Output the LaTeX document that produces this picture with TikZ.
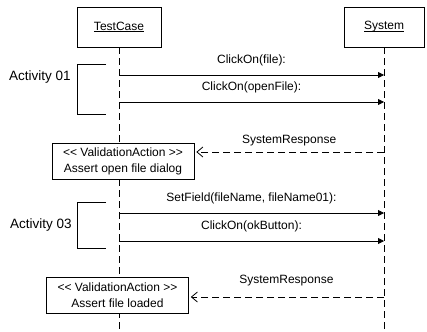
\documentclass[tikz,border=0pt]{standalone}
\usepackage{fontspec}
\setmainfont{Liberation Sans}
\usepackage{tikz}
\usetikzlibrary{arrows.meta, positioning}

%//underline that sits just under the baseline
\newcommand{\objname}[1]{\setbox0\hbox{#1}\rlap{\rule[-1.6pt]{\wd0}{0.6pt}}#1}

\tikzset{
	obj/.style={draw, fill=white, line width=0.8pt, minimum width=84pt, minimum height=40pt},
	lifeline/.style={line width=0.8pt, dash pattern=on 7pt off 4pt},
	msg/.style={line width=0.8pt, -{Triangle[length=6pt,width=6pt]}},
	reply/.style={line width=0.8pt, dash pattern=on 7pt off 4pt, -{Straight Barb[length=6pt,width=10pt]}, shorten >=2pt},
	valbox/.style={draw, fill=white, line width=0.8pt, align=center, minimum height=36pt, inner xsep=11pt},
	actlbl/.style={font=\fontsize{13.5}{16}\selectfont}
}

\begin{document}
\begin{tikzpicture}[x=1pt, y=-1pt, every node/.style={font=\fontsize{12}{16}\selectfont}]
	\useasboundingbox (0,0) rectangle (427,331);
	
	%//objects and their lifelines
	\coordinate (tcend) at (119,331);
	\coordinate (syend) at (384,331);
	\node[obj] (tc) at (119,27) {\objname{TestCase}};
	\node[obj, minimum width=80pt] (sy) at (384,27) {\objname{System}};
	\draw[lifeline] (tc) -- (tcend);
	\draw[lifeline] (sy) -- (syend);
	
	%//calls from TestCase to System
	\foreach \y/\n/\val in {75/a/{ClickOn(file):}, 102/b/{ClickOn(openFile):}, 213/c/{SetField(fileName, fileName01):}, 241/d/{ClickOn(okButton):}}
	{
		\coordinate (tc\n) at (119,\y);
		\coordinate (sy\n) at (384,\y);
		\draw[msg] (tc\n) -- node[above=5pt] {\val} (sy\n);
	}
	
	%//validation actions
	\node[valbox] (va1) at (123,161) {<\kern0pt< ValidationAction >\kern0pt>\\Assert open file dialog};
	\node[valbox] (va2) at (117.5,295) {<\kern0pt< ValidationAction >\kern0pt>\\Assert file loaded};
	
	%//responses back
	\coordinate (rs1) at (384,152);
	\coordinate (rs2) at (384,297);
	\draw[reply] (rs1) -- node[above=2pt] {SystemResponse} (va1.east |- rs1);
	\draw[reply] (rs2) -- node[above=7pt] {SystemResponse} (va2.east |- rs2);
	
	%//activity brackets
	\node[actlbl] (act1) at (40,77) {Activity 01};
	\node[actlbl] (act3) at (41,225) {Activity 03};
	\draw[line width=0.8pt] (106,64) -| (77,114) -- (106,114);
	\draw[line width=0.8pt] (106,202) -| (77,248) -- (106,248);
\end{tikzpicture}
\end{document}
